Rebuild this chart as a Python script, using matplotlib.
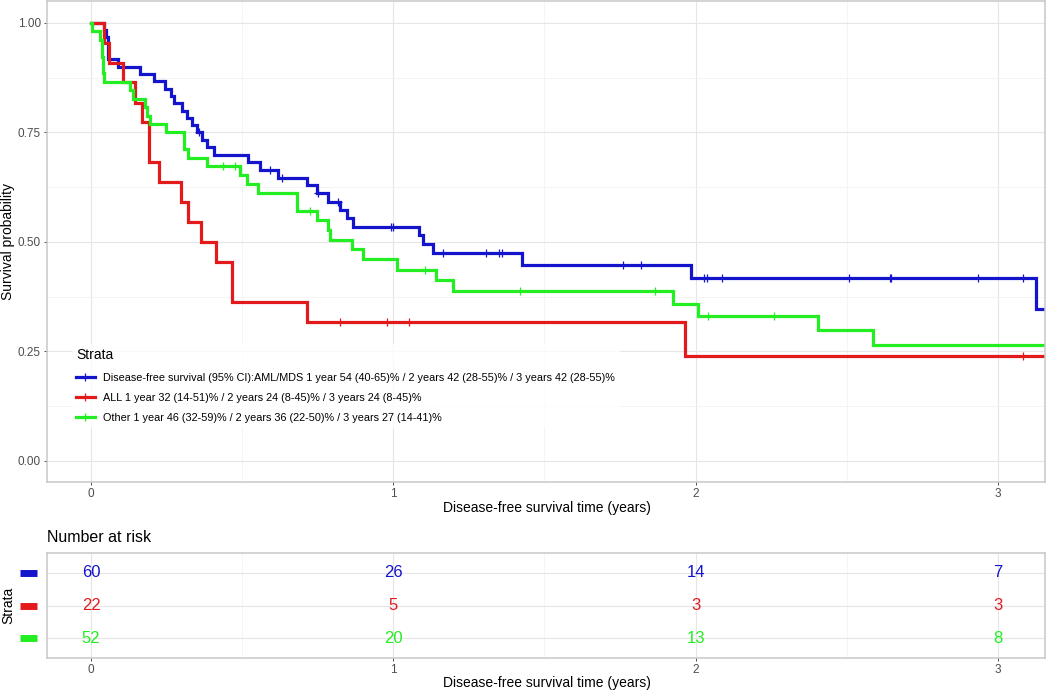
import numpy as np
import matplotlib
matplotlib.use('Agg')
import matplotlib.pyplot as plt
from matplotlib.lines import Line2D
from matplotlib.transforms import blended_transform_factory

plt.rcParams['font.family'] = ['Liberation Sans', 'DejaVu Sans']

# Kaplan-Meier steps (time in years, survival)
blue_t = [0, 0.044, 0.050, 0.055, 0.088, 0.162, 0.210, 0.245, 0.264, 0.275,
          0.300, 0.317, 0.333, 0.350, 0.366, 0.383, 0.407, 0.520, 0.559, 0.618,
          0.715, 0.747, 0.785, 0.824, 0.846, 0.866, 1.085, 1.099, 1.132, 1.427,
          1.984, 3.126]
blue_s = [1.0, 0.983, 0.967, 0.917, 0.900, 0.883, 0.867, 0.850, 0.833, 0.817,
          0.800, 0.783, 0.767, 0.750, 0.733, 0.716, 0.699, 0.682, 0.664, 0.647,
          0.629, 0.611, 0.592, 0.573, 0.554, 0.535, 0.515, 0.495, 0.474, 0.447,
          0.418, 0.348]
blue_cens = [0.357, 0.592, 0.631, 0.750, 0.818, 0.991, 0.998, 1.163, 1.306,
             1.350, 1.358, 1.761, 1.818, 2.029, 2.038, 2.087, 2.508, 2.642,
             2.648, 2.933, 3.082]

red_t = [0, 0.043, 0.060, 0.107, 0.146, 0.168, 0.192, 0.225, 0.298, 0.322,
         0.364, 0.413, 0.466, 0.715, 1.966]
red_s = [1.0, 0.955, 0.909, 0.864, 0.818, 0.773, 0.682, 0.636, 0.591, 0.545,
         0.500, 0.455, 0.364, 0.318, 0.239]
red_cens = [0.825, 0.978, 1.053, 3.083]

green_t = [0, 0.002, 0.030, 0.035, 0.040, 0.043, 0.129, 0.140, 0.179, 0.184,
           0.195, 0.247, 0.309, 0.322, 0.385, 0.493, 0.515, 0.553, 0.683, 0.749,
           0.784, 0.791, 0.862, 0.901, 1.011, 1.141, 1.196, 1.924, 2.009, 2.406,
           2.588]
green_s = [1.0, 0.981, 0.962, 0.923, 0.885, 0.865, 0.846, 0.827, 0.808, 0.788,
           0.769, 0.750, 0.712, 0.692, 0.673, 0.653, 0.632, 0.612, 0.571, 0.550,
           0.528, 0.505, 0.483, 0.461, 0.436, 0.412, 0.387, 0.359, 0.332, 0.299,
           0.265]
green_cens = [0.436, 0.476, 0.723, 1.105, 1.419, 1.866, 2.040, 2.260]

follow_up_end = 3.3

labels = [
    'Disease-free survival (95% CI):AML/MDS 1 year 54 (40-65)% / 2 years 42 (28-55)% / 3 years 42 (28-55)%',
    'ALL 1 year 32 (14-51)% / 2 years 24 (8-45)% / 3 years 24 (8-45)%',
    'Other 1 year 46 (32-59)% / 2 years 36 (22-50)% / 3 years 27 (14-41)%',
]
colors = ['#1414CC', '#E31A1C', '#22EE22']

risk_times = [0, 1, 2, 3]
blue_risk = [60, 26, 14, 7]
red_risk = [22, 5, 3, 3]
green_risk = [52, 20, 13, 8]

W, H = 1050, 694
fig = plt.figure(figsize=(W / 100, H / 100), dpi=100)

def px_axes(left, top, right, bottom):
    return fig.add_axes([left / W, (H - bottom) / H, (right - left) / W, (bottom - top) / H])

def style(ax):
    for s in ax.spines.values():
        s.set_color('#C8C8C8')
        s.set_linewidth(1.1)
    ax.grid(which='major', color='#E6E6E6', lw=0.8)
    ax.grid(which='minor', color='#F2F2F2', lw=0.6)
    ax.set_axisbelow(True)
    ax.tick_params(which='major', colors='#333333', labelcolor='#4D4D4D',
                   labelsize=8.5, length=2.5, width=0.6, pad=2)
    ax.tick_params(which='minor', length=0)

ax = px_axes(47, 1, 1045, 482)
style(ax)

series = [(blue_t, blue_s, blue_cens), (red_t, red_s, red_cens), (green_t, green_s, green_cens)]
for (t, s, c), col in zip(series, colors):
    tt = list(t) + [follow_up_end]
    ss = list(s) + [s[-1]]
    ax.step(tt, ss, where='post', color=col, lw=2.3, solid_joinstyle='miter')
    idx = np.searchsorted(t, c, side='right') - 1
    ax.plot(c, np.array(s)[idx], ls='none', marker='+', ms=6, mew=0.9, color=col)

ax.set_xlim(-0.1456, 3.156)
ax.set_ylim(-0.048, 1.050)
ax.set_xticks([0, 1, 2, 3])
ax.set_xticks([0.5, 1.5, 2.5], minor=True)
ax.set_yticks([0, 0.25, 0.5, 0.75, 1.0])
ax.set_yticklabels(['0.00', '0.25', '0.50', '0.75', '1.00'])
ax.set_yticks([0.125, 0.375, 0.625, 0.875], minor=True)
ax.set_xlabel('Disease-free survival time (years)', fontsize=10)
ax.set_ylabel('Survival probability', fontsize=10)
ax.xaxis.set_label_coords(0.501, -0.040)
ax.yaxis.set_label_coords(-0.032, 0.5)

handles = [Line2D([], [], color=col, lw=2.3, marker='+', ms=6, mew=0.9) for col in colors]
leg = ax.legend(handles, labels, title='Strata', loc='upper left',
                bbox_to_anchor=(0.025, 0.287), borderaxespad=0, fontsize=7.8,
                title_fontsize=10, handlelength=1.7, handletextpad=0.75,
                labelspacing=0.95, frameon=True, fancybox=False, borderpad=0.4,
                alignment='left')
leg.get_frame().set_facecolor('white')
leg.get_frame().set_edgecolor('white')

# number at risk table
ax2 = px_axes(47, 553, 1045, 658)
style(ax2)
ax2.set_xlim(-0.1456, 3.156)
ax2.set_ylim(0.4, 3.6)
ax2.set_xticks([0, 1, 2, 3])
ax2.set_xticks([0.5, 1.5, 2.5], minor=True)
ax2.set_yticks([1, 2, 3])
ax2.set_yticklabels([])
ax2.tick_params(axis='y', length=0)
for row, (vals, col) in zip([3, 2, 1], [(blue_risk, colors[0]), (red_risk, colors[1]), (green_risk, colors[2])]):
    for tx, v in zip(risk_times, vals):
        ax2.text(tx, row, str(v), color=col, fontsize=12, ha='center', va='center')
    tr = blended_transform_factory(ax2.transAxes, ax2.transData)
    ax2.plot([-0.027, -0.010], [row, row], color=col, lw=5, solid_capstyle='butt',
             transform=tr, clip_on=False)
ax2.set_xlabel('Disease-free survival time (years)', fontsize=10)
ax2.set_ylabel('Strata', fontsize=10)
ax2.xaxis.set_label_coords(0.501, -0.17)
ax2.yaxis.set_label_coords(-0.032, 0.5)
ax2.set_title('Number at risk', loc='left', fontsize=11.5, pad=8)

fig.savefig('out.png', dpi=100)
